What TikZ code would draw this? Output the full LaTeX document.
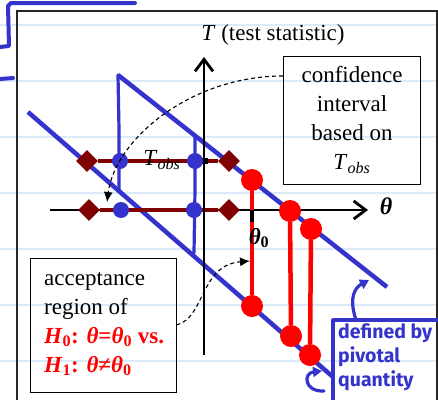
\documentclass[tikz,border=0pt]{standalone}
\usepackage{fontspec}
\setmainfont{Liberation Serif}
\newfontfamily\penfont{Fira Sans}
\usetikzlibrary{shapes.geometric,arrows.meta}
\definecolor{penblue}{RGB}{52,52,204}
\definecolor{accdark}{RGB}{128,0,0}
\definecolor{cired}{RGB}{255,0,0}
\definecolor{ruleline}{RGB}{218,234,250}
\tikzset{
  pivline/.style={penblue, line width=4.5pt},
  penline/.style={penblue, line width=3.2pt, line cap=round, line join=round},
  accline/.style={accdark, line width=4.5pt},
  ciline/.style={cired, line width=4.5pt},
  axisline/.style={line width=2.8pt, -{Straight Barb[length=12pt,width=18pt]}},
  accend/.style={diamond, fill=accdark, inner sep=0pt, minimum size=22pt},
  hitdot/.style={circle, fill=penblue, inner sep=0pt, minimum size=16pt},
  cidot/.style={circle, fill=cired, inner sep=0pt, minimum size=22pt},
  infobox/.style={draw, line width=0.9pt, font=\fontsize{23}{29}\selectfont, inner sep=0pt},
  boxtext/.style={inner sep=0pt, font=\fontsize{23}{29}\selectfont},
  linkarrow/.style={line width=1.1pt, dash pattern=on 4pt off 3pt, -{Latex[length=10pt,width=9pt]}},
  penarrow/.style={penline, -{Triangle[length=9pt,width=10pt]}},
}
\newcommand{\Tobs}{\textit{T}\textsubscript{\textit{obs}}}

\begin{document}
\begin{tikzpicture}[x=1pt, y=-1pt]
  \useasboundingbox (0,0) rectangle (438,399);
  \fill[white] (0,0) rectangle (438,399);
  \foreach \y in {25,81,137,193,249,305,361}
    \draw[ruleline, line width=2pt] (0,\y) -- (438,\y);
  \draw[black!85, line width=1.2pt] (17,420) -- (17,11) -- (437,11) -- (437,420);
  % pen marks, top left
  \draw[penline, line width=4pt] (0,47) -- (9,46) -- (8,6) -- (11,3) -- (135,3);
  \draw[penline, line width=4pt] (0,79) -- (13,78);

  % band of the pivotal quantity
  \coordinate (upA) at (118,75);
  \coordinate (upB) at (387,287);
  \coordinate (loA) at (28,112);
  \coordinate (loB) at (333,377);
  \draw[pivline] (upA) -- (upB);
  \draw[pivline] (loA) -- (loB);

  % axes
  \coordinate (thL) at (50,210);
  \coordinate (thR) at (368,210);
  \coordinate (TB) at (204,355);
  \coordinate (TT) at (204,57);
  \draw[axisline] (thL) -- (thR);
  \node (thlab) at (386,206) {\fontsize{24}{24}\selectfont\bfseries\itshape θ};
  \node (Tlab) at (273,35) {\fontsize{23}{23}\selectfont\textit{T} (test statistic)};

  % acceptance regions
  \node[accend] (a1L) at (87,161) {};
  \node[accend] (a1R) at (229,161) {};
  \node[accend] (a0L) at (89,210) {};
  \node[accend] (a0R) at (229,210) {};
  \draw[accline] (a1L) -- (a1R);
  \draw[accline] (a0L) -- (a0R);
  \draw[axisline] (TB) -- (TT);
  \fill (200.5,158) rectangle (207.5,164);

  % hand-drawn verticals and hits
  \coordinate (pvA) at (119,190);
  \coordinate (pvB) at (195,136);
  \coordinate (pvC) at (194,253);
  \draw[penline] (upA) -- (119,130) -- (pvA);
  \draw[penline] (pvB) -- (195,190) -- (pvC);
  \node[hitdot] (h1L) at (120,161) {};
  \node[hitdot] (h1R) at (195,161) {};
  \node[hitdot] (h0L) at (121,210) {};
  \node[hitdot] (h0R) at (194,210) {};
  \node (tobs) at (162,160) {\fontsize{23}{23}\selectfont\Tobs};

  % confidence interval
  \node[cidot] (c1T) at (252,180) {};
  \node[cidot] (c1B) at (252,306) {};
  \node[cidot] (c2T) at (290,211) {};
  \node[cidot] (c2B) at (291,336) {};
  \node[cidot] (c3T) at (311,229) {};
  \node[cidot] (c3B) at (310,355) {};
  \draw[ciline] (c1T) -- (c1B);
  \draw[ciline] (c2T) -- (c2B);
  \draw[ciline] (c3T) -- (c3B);
  \draw[line width=4pt] (252,210) -- (252,222);
  \node (th0lab) at (259,238) {\fontsize{23}{23}\selectfont\bfseries\itshape θ\textsubscript{\upshape 0}};

  % boxes
  \node[infobox, minimum width=146pt, minimum height=134pt] (accbox) at (103,325) {};
  \node[boxtext, anchor=west, align=left] (acctext) at (44,324)
    {acceptance\\region of\\
     \textcolor{cired}{\bfseries\textit{H}\textsubscript{0}: \textit{θ}=\textit{θ}\textsubscript{0} vs.}\\
     \textcolor{cired}{\bfseries\textit{H}\textsubscript{1}: \textit{θ}≠\textit{θ}\textsubscript{0}}};
  \node[infobox, minimum width=137pt, minimum height=128pt, align=center] (cibox) at (352,120)
    {confidence\\interval\\based on\\\Tobs};

  \coordinate (ciTip) at (107,202);
  \coordinate (ciMid) at (250,261);
  \draw[linkarrow] ([yshift=44pt]cibox.west) .. controls (190,76) and (115,140) .. (ciTip);
  \draw[linkarrow] (accbox.east) .. controls (205,318) and (200,265) .. (ciMid);

  % pen note
  \coordinate (noteC) at (333,320);
  \coordinate (pivHit) at (369,280);
  \coordinate (loHit) at (322,371);
  \draw[penline] (333,410) -- (noteC) -- (440,320);
  \node[anchor=north west, inner sep=0pt, align=left, text=penblue,
        font=\penfont\bfseries\fontsize{19.5}{24}\selectfont] (defnote) at (338,323)
    {defined by\\pivotal\\quantity};
  \draw[penarrow] ([xshift=23pt]noteC) .. controls (348,296) and (356,287) .. (pivHit);
  \draw[penarrow] (324,391) .. controls (304,392) and (303,373) .. (loHit);
\end{tikzpicture}
\end{document}
